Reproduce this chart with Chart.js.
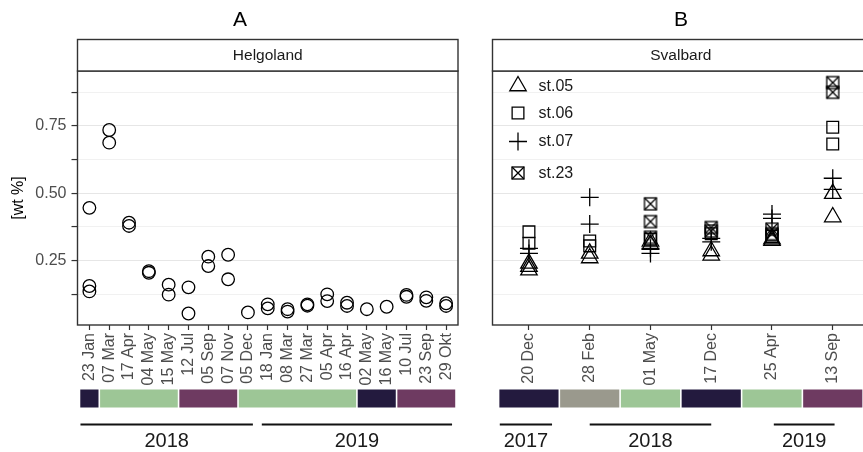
<!DOCTYPE html>
<html>
<head>
<meta charset="utf-8">
<script src="https://cdn.jsdelivr.net/npm/chart.js@4/dist/chart.umd.min.js"></script>
<style>
  html, body { margin: 0; padding: 0; background: #fff; overflow: hidden; }
  #wrap { position: relative; width: 863px; height: 452px; overflow: hidden; }
  canvas { position: absolute; top: 0; }
  #panelA { left: 0; }
  #panelB { left: 470px; }
</style>
</head>
<body>
<div id="wrap">
  <canvas id="panelA" width="470" height="452"></canvas>
  <canvas id="panelB" width="410" height="452"></canvas>
</div>
<script>
// ---- Helgoland (panel A) ----
const helgolandDates = ['23 Jan', '07 Mar', '17 Apr', '04 May', '15 May', '12 Jul', '05 Sep', '07 Nov', '05 Dec',
  '18 Jan', '08 Mar', '27 Mar', '05 Apr', '16 Apr', '02 May', '16 May', '10 Jul', '23 Sep', '29 Okt'];
const helgolandValues = [
  [0.446, 0.156, 0.136], [0.735, 0.688], [0.391, 0.379], [0.211, 0.205], [0.161, 0.124],
  [0.151, 0.054], [0.265, 0.230], [0.272, 0.181], [0.058],
  [0.088, 0.073], [0.070, 0.061], [0.088, 0.083], [0.125, 0.100], [0.094, 0.082],
  [0.070], [0.079], [0.123, 0.116], [0.114, 0.101], [0.092, 0.082]
];
const helgolandSeason = ['navy', 'green', 'green', 'green', 'green', 'plum', 'plum', 'plum', 'green',
  'green', 'green', 'green', 'green', 'green', 'navy', 'navy', 'plum', 'plum', 'plum'];
const helgolandYears = ['2018', '2019'];

// ---- Svalbard (panel B) ----
const svalbardDates = ['20 Dec', '28 Feb', '01 May', '17 Dec', '25 Apr', '13 Sep'];
const stationNames = ['st.05', 'st.06', 'st.07', 'st.23'];
const st05 = [[0.240, 0.228, 0.215], [0.277, 0.260], [0.322, 0.310], [0.286, 0.270], [0.330, 0.325], [0.499, 0.412]];
const st06 = [[0.357, 0.315], [0.323, 0.305], [0.330], [0.350], [0.345, 0.340], [0.745, 0.683]];
const st07 = [[0.296, 0.277], [0.485, 0.386], [0.296, 0.277], [0.333, 0.320], [0.423, 0.407], [0.556, 0.515]];
const st23 = [[], [], [0.461, 0.395, 0.337], [0.373, 0.360], [0.367, 0.350], [0.911, 0.875]];
const svalbardSeason = ['navy', 'grey', 'green', 'navy', 'green', 'plum'];
const svalbardYears = ['2017', '2018', '2019'];

// ---- shared y axis ----
const yBreaks = [0.125, 0.25, 0.375, 0.5, 0.625, 0.75, 0.875];
const yLabels = ['', '0.25', '', '0.50', '', '0.75', ''];
const yTitle = '[wt %]';

// ---- styling ----
const FONT = "'Liberation Sans', Arial, Helvetica, sans-serif";
Chart.defaults.font.family = FONT;
const seasonColours = { navy: '#231a3e', green: '#9dc696', plum: '#6e3a61', grey: '#9a998d' };
const Y_MIN = 0.0113, Y_MAX = 0.954;

// x extent of each year bar, in category units
const yearSpansA = [[-0.45, 8.25], [8.7, 18.3]];
const yearSpansB = [[-0.48, 0.38], [1.0, 3.0], [4.03, 5.03]];

// square with an X inside (station 23)
function crossedSquare() {
  const c = document.createElement('canvas');
  c.width = 16; c.height = 16;
  const g = c.getContext('2d');
  g.strokeStyle = '#000'; g.lineWidth = 1.3;
  g.strokeRect(2, 2, 12, 12);
  g.beginPath();
  g.moveTo(2, 2); g.lineTo(14, 14);
  g.moveTo(14, 2); g.lineTo(2, 14);
  g.stroke();
  return c;
}

function toPoints(groups) {
  const pts = [];
  groups.forEach((vals, i) => vals.forEach(v => pts.push({ x: i, y: v })));
  return pts;
}

function xScale(dates, height) {
  return {
    type: 'linear',
    min: -0.6,
    max: dates.length - 1 + 0.6,
    afterBuildTicks: s => { s.ticks = dates.map((d, i) => ({ value: i })); },
    afterFit: s => { s.height = height; },
    ticks: {
      autoSkip: false, minRotation: 90, maxRotation: 90, padding: 3,
      color: '#4d4d4d', font: { size: 16 },
      callback: (v, i) => dates[i]
    },
    grid: { drawOnChartArea: false, drawTicks: true, tickLength: 5, tickColor: '#333', tickWidth: 1.2 },
    border: { display: false }
  };
}

function yScale(withLabels, width) {
  return {
    type: 'linear',
    min: Y_MIN, max: Y_MAX,
    afterBuildTicks: s => { s.ticks = yBreaks.map(v => ({ value: v })); },
    afterFit: s => { s.width = width; },
    ticks: {
      display: withLabels, padding: 5, color: '#4d4d4d', font: { size: 16 },
      callback: (v, i) => yLabels[i]
    },
    grid: {
      drawTicks: withLabels, tickLength: 6, tickColor: '#333', tickWidth: 1.2,
      color: c => (c.index !== undefined && yLabels[c.index] !== '') ? '#e6e6e6' : '#f1f1f1',
      lineWidth: 1.1
    },
    border: { display: false },
    title: {
      display: withLabels, text: yTitle, color: '#000', font: { size: 16 },
      padding: { top: 9, bottom: 0 }
    }
  };
}

function decor(cfg) {
  return {
    id: 'decor' + cfg.title,
    afterDatasetsDraw(chart) {
      const { ctx, chartArea: a } = chart;
      ctx.save();
      ctx.strokeStyle = '#333'; ctx.lineWidth = 1.4;
      ctx.strokeRect(a.left, a.top, a.right - a.left, a.bottom - a.top);
      ctx.restore();
    },
    afterDraw(chart) {
      const { ctx, chartArea: a } = chart;
      const x = chart.scales.x;
      ctx.save();
      // panel title
      ctx.fillStyle = '#000';
      ctx.font = '21px ' + FONT;
      ctx.textAlign = 'center'; ctx.textBaseline = 'middle';
      ctx.fillText(cfg.title, cfg.titleX, 20);
      // facet strip
      const sTop = 39.5;
      ctx.fillStyle = '#fff';
      ctx.fillRect(a.left, sTop, a.right - a.left, a.top - sTop);
      ctx.strokeStyle = '#333'; ctx.lineWidth = 1.4;
      ctx.strokeRect(a.left, sTop, a.right - a.left, a.top - sTop);
      ctx.fillStyle = '#1a1a1a';
      ctx.font = '15.5px ' + FONT;
      ctx.fillText(cfg.strip, (a.left + a.right) / 2, (sTop + a.top) / 2 + 0.5);
      // season tiles: runs of equal colour
      const seasons = cfg.seasons;
      let i = 0;
      while (i < seasons.length) {
        let j = i;
        while (j + 1 < seasons.length && seasons[j + 1] === seasons[i]) j++;
        const x0 = x.getPixelForValue(i - 0.5) + 0.8;
        const x1 = x.getPixelForValue(j + 0.5) - 0.8;
        ctx.fillStyle = seasonColours[seasons[i]];
        ctx.fillRect(x0, 389.5, x1 - x0, 18);
        i = j + 1;
      }
      // year bars
      ctx.strokeStyle = '#111'; ctx.lineWidth = 2;
      ctx.fillStyle = '#1a1a1a';
      ctx.font = '20px ' + FONT;
      cfg.years.forEach((label, k) => {
        const [u0, u1] = cfg.yearSpans[k];
        const p0 = x.getPixelForValue(u0), p1 = x.getPixelForValue(u1);
        ctx.beginPath(); ctx.moveTo(p0, 424.5); ctx.lineTo(p1, 424.5); ctx.stroke();
        ctx.fillText(label, (p0 + p1) / 2, 441);
      });
      // legend inside the panel (open symbols)
      if (cfg.legend) {
        const ys = [86, 113, 141.5, 173];
        chart.data.datasets.forEach((ds, k) => {
          ctx.fillStyle = 'rgba(0,0,0,0)';
          ctx.strokeStyle = '#000';
          ctx.lineWidth = ds.borderWidth;
          Chart.helpers.drawPoint(ctx, {
            pointStyle: ds.pointStyle, radius: ds.pointRadius, borderWidth: ds.borderWidth, rotation: 0
          }, a.left + 25.5, ys[k]);
          ctx.fillStyle = '#1a1a1a';
          ctx.font = '16px ' + FONT;
          ctx.textAlign = 'left';
          ctx.fillText(ds.label, a.left + 46, ys[k] + 0.5);
        });
      }
      ctx.restore();
    }
  };
}

const common = {
  responsive: false,
  animation: false,
  events: [],
  plugins: { legend: { display: false }, tooltip: { enabled: false } }
};

// Panel A
new Chart(document.getElementById('panelA'), {
  type: 'scatter',
  data: {
    datasets: [{
      label: 'Helgoland',
      data: toPoints(helgolandValues),
      pointStyle: 'circle', pointRadius: 6.3, borderWidth: 1.3,
      borderColor: '#000', backgroundColor: 'rgba(0,0,0,0)'
    }]
  },
  options: Object.assign({}, common, {
    layout: { padding: { left: 0, right: 12, top: 71, bottom: 0 } },
    scales: { x: xScale(helgolandDates, 127), y: yScale(true, 77.5) }
  }),
  plugins: [decor({ title: 'A', titleX: 240, strip: 'Helgoland', seasons: helgolandSeason,
    years: helgolandYears, yearSpans: yearSpansA, legend: false })]
});

// Panel B
const stationSeries = [st05, st06, st07, st23];
const stationShapes = ['triangle', 'rect', 'cross', crossedSquare()];
const stationRadius = [9.5, 8.3, 9, 8];
new Chart(document.getElementById('panelB'), {
  type: 'scatter',
  data: {
    datasets: stationSeries.map((s, k) => ({
      label: stationNames[k],
      data: toPoints(s),
      pointStyle: stationShapes[k], pointRadius: stationRadius[k], borderWidth: 1.3,
      borderColor: '#000', backgroundColor: 'rgba(0,0,0,0)'
    }))
  },
  options: Object.assign({}, common, {
    layout: { padding: { left: 0, right: 8, top: 71, bottom: 0 } },
    scales: { x: xScale(svalbardDates, 127), y: yScale(false, 22.5) }
  }),
  plugins: [decor({ title: 'B', titleX: 211, strip: 'Svalbard', seasons: svalbardSeason,
    years: svalbardYears, yearSpans: yearSpansB, legend: true })]
});
</script>
</body>
</html>
